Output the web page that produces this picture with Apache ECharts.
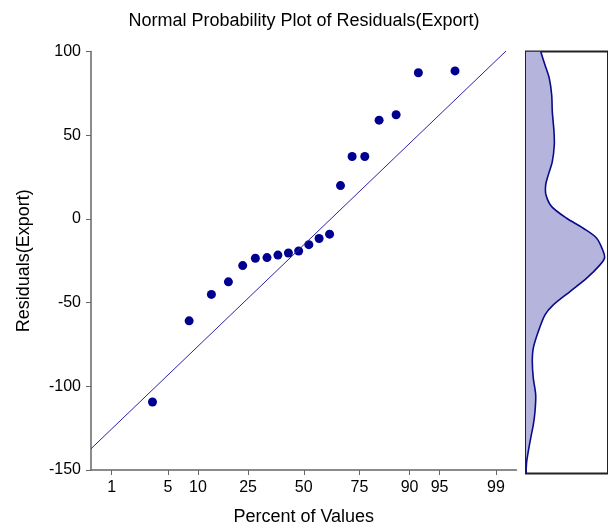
<!DOCTYPE html>
<html>
<head>
<meta charset="utf-8">
<script src="https://cdn.jsdelivr.net/npm/echarts@6/dist/echarts.min.js"></script>
<style>html,body{margin:0;padding:0;background:#fff}#chart{width:608px;height:531px}</style>
</head>
<body>
<div id="chart"></div>
<script>
// ---- data ----
const residuals = [-109.4, -60.9, -45.1, -37.6, -27.9, -23.5, -23.1, -21.6, -20.4, -19.2, -15.4, -11.7, -9.1, 19.9, 37.3, 37.3, 59.0, 62.2, 87.3, 88.4];
const percentTicks = [1, 5, 10, 25, 50, 75, 90, 95, 99];
const axisPercentRange = [0.5, 99.5];
const fitLinePercent = [0.5, 99.5];
const fitLineValues = [-137.3, 106.3];
const densityLevels = [100, 92.0, 84.1, 74.2, 64.4, 52.5, 44.6, 34.8, 26.9, 21.0, 15.0, 8.1, 1.2, -4.7, -10.6, -18.5, -22.3, -26.4, -34.3, -42.2, -50.1, -56.0, -65.9, -75.7, -83.7, -93.5, -103.4, -113.3, -121.2, -129.0, -136.9, -142.9, -150];
const densityValues = [14.7, 19, 23.3, 25.7, 26.3, 28, 28.3, 26.3, 22.3, 19.7, 20, 25.7, 40.7, 57.3, 70.7, 77.3, 78.5, 74, 60.7, 44, 27.3, 19, 12.3, 7.3, 6.3, 7.3, 9.7, 9, 7.3, 4.7, 2.3, 0.7, 0];

// inverse standard normal CDF (Acklam)
function invNorm(p){
  const a=[-3.969683028665376e+01,2.209460984245205e+02,-2.759285104469687e+02,1.383577518672690e+02,-3.066479806614716e+01,2.506628277459239e+00];
  const b=[-5.447609879822406e+01,1.615858368580409e+02,-1.556989798598866e+02,6.680131188771972e+01,-1.328068155288572e+01];
  const c=[-7.784894002430293e-03,-3.223964580411365e-01,-2.400758277161838e+00,-2.549732539343734e+00,4.374664141464968e+00,2.938163982698783e+00];
  const d=[7.784695709041462e-03,3.224671290700398e-01,2.445134137142996e+00,3.754408661907416e+00];
  const pl=0.02425, ph=1-pl; let q,r;
  if(p<pl){q=Math.sqrt(-2*Math.log(p));return (((((c[0]*q+c[1])*q+c[2])*q+c[3])*q+c[4])*q+c[5])/((((d[0]*q+d[1])*q+d[2])*q+d[3])*q+1);}
  if(p>ph){q=Math.sqrt(-2*Math.log(1-p));return -(((((c[0]*q+c[1])*q+c[2])*q+c[3])*q+c[4])*q+c[5])/((((d[0]*q+d[1])*q+d[2])*q+d[3])*q+1);}
  q=p-0.5;r=q*q;return (((((a[0]*r+a[1])*r+a[2])*r+a[3])*r+a[4])*r+a[5])*q/(((((b[0]*r+b[1])*r+b[2])*r+b[3])*r+b[4])*r+1);
}

const n = residuals.length;
const pointData = residuals.map((v, i) => [invNorm((i + 1 - 0.3175) / (n + 0.365)), v]);
const tickZ = percentTicks.map(p => invNorm(p / 100));
const lineData = fitLinePercent.map((p, i) => [invNorm(p / 100), fitLineValues[i]]);
const densityData = densityLevels.map((y, i) => [densityValues[i], y]);

const FONT = '"Liberation Sans", Arial, sans-serif';
const chart = echarts.init(document.getElementById('chart'), null, {renderer: 'canvas'});
chart.setOption({
  animation: false,
  backgroundColor: '#fff',
  title: {
    text: 'Normal Probability Plot of Residuals(Export)',
    left: 'center', top: 7,
    textStyle: {fontFamily: FONT, fontSize: 18, fontWeight: 'normal', color: '#000'}
  },
  grid: [
    {left: 91, right: 91.5, top: 51.5, bottom: 57.5},
    {left: 526, right: 0, top: 51.5, bottom: 57.5, show: true, borderColor: '#222', borderWidth: 2, backgroundColor: 'transparent'}
  ],
  xAxis: [
    {
      type: 'value', gridIndex: 0,
      min: invNorm(axisPercentRange[0] / 100), max: invNorm(axisPercentRange[1] / 100),
      name: 'Percent of Values', nameLocation: 'middle', nameGap: 38,
      nameTextStyle: {fontFamily: FONT, fontSize: 18, color: '#000'},
      splitLine: {show: false},
      axisLine: {show: true, onZero: false, lineStyle: {color: '#666', width: 1.5}},
      axisTick: {show: true, length: 5, customValues: tickZ, lineStyle: {color: '#666'}},
      axisLabel: {
        customValues: tickZ, margin: 10,
        fontFamily: FONT, fontSize: 16, color: '#000',
        formatter: v => {
          let best = 0;
          tickZ.forEach((z, i) => { if (Math.abs(z - v) < Math.abs(tickZ[best] - v)) best = i; });
          return String(percentTicks[best]);
        }
      }
    },
    {type: 'value', gridIndex: 1, min: 0, max: 82, show: false}
  ],
  yAxis: [
    {
      type: 'value', gridIndex: 0, min: -150, max: 100, interval: 50,
      name: 'Residuals(Export)', nameLocation: 'middle', nameGap: 58,
      nameTextStyle: {fontFamily: FONT, fontSize: 18, color: '#000'},
      splitLine: {show: false},
      axisLine: {show: true, onZero: false, lineStyle: {color: '#666', width: 1.5}},
      axisTick: {show: true, length: 5, lineStyle: {color: '#666'}},
      axisLabel: {margin: 10, fontFamily: FONT, fontSize: 16, color: '#000'}
    },
    {type: 'value', gridIndex: 1, min: -150, max: 100, show: false}
  ],
  series: [
    {
      type: 'line', xAxisIndex: 0, yAxisIndex: 0, data: lineData,
      symbol: 'none', clip: true,
      lineStyle: {color: '#2b22a8', width: 1}
    },
    {
      type: 'scatter', xAxisIndex: 0, yAxisIndex: 0, data: pointData,
      symbol: 'circle', symbolSize: 9,
      itemStyle: {color: '#000090', opacity: 1}
    },
    {
      type: 'custom', xAxisIndex: 1, yAxisIndex: 1, data: densityData, clip: true,
      renderItem: (params, api) => {
        if (params.dataIndex !== 0) return null;
        const pts = densityData.map(d => api.coord(d));
        const poly = [api.coord([0, densityLevels[0]])].concat(pts, [api.coord([0, densityLevels[densityLevels.length - 1]])]);
        return {
          type: 'group',
          children: [
            {type: 'polygon', shape: {points: poly}, style: {fill: '#b4b4dc', stroke: null}},
            {type: 'polyline', shape: {points: pts, smooth: 0.3}, style: {stroke: '#0a0a8a', lineWidth: 1.6, fill: null}}
          ]
        };
      }
    }
  ]
});
</script>
</body>
</html>
